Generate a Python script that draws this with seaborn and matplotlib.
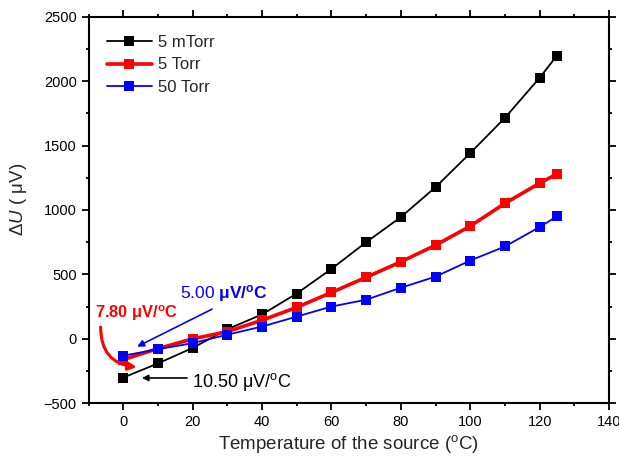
import matplotlib
matplotlib.use("Agg")
import matplotlib.pyplot as plt
import seaborn as sns
import pandas as pd
from matplotlib.ticker import MultipleLocator

temps = [0, 10, 20, 30, 40, 50, 60, 70, 80, 90, 100, 110, 120, 125]
u_5mtorr = [-300, -190, -70, 75, 190, 352, 543, 750, 945, 1177, 1442, 1715, 2026, 2198]
u_5torr = [-160, -75, 0, 57, 145, 245, 360, 478, 598, 727, 875, 1052, 1208, 1280]
u_50torr = [-130, -80, -33, 33, 96, 173, 251, 304, 397, 483, 608, 717, 868, 951]
series_names = ["5 mTorr", "5 Torr", "50 Torr"]
series_colors = ["#000000", "#ff0000", "#0000ff"]
series_widths = [1.3, 2.6, 1.3]

sns.set_style("ticks")
plt.rcParams["font.family"] = ["Liberation Sans", "DejaVu Sans"]
plt.rcParams["mathtext.fontset"] = "custom"
plt.rcParams["mathtext.rm"] = "Liberation Sans"
plt.rcParams["mathtext.it"] = "Liberation Sans:italic"
plt.rcParams["mathtext.bf"] = "Liberation Sans:bold"

df = pd.DataFrame({
    "T": temps * 3,
    "U": u_5mtorr + u_5torr + u_50torr,
    "series": [series_names[0]] * len(temps) + [series_names[1]] * len(temps) + [series_names[2]] * len(temps),
})

fig = plt.figure(figsize=(6.19, 4.61), dpi=100)
ax = fig.add_axes([0.143, 0.125, 0.841, 0.839])

for i, name in enumerate(series_names):
    sub = df[df["series"] == name]
    sns.lineplot(data=sub, x="T", y="U", ax=ax, color=series_colors[i], linewidth=series_widths[i],
                 marker="s", markersize=6.5, markeredgewidth=0, label=name, zorder=3 + i)

ax.set_xlim(-10, 140)
ax.set_ylim(-500, 2500)
ax.xaxis.set_major_locator(MultipleLocator(20))
ax.xaxis.set_minor_locator(MultipleLocator(10))
ax.yaxis.set_major_locator(MultipleLocator(500))
ax.yaxis.set_minor_locator(MultipleLocator(250))
ax.tick_params(which="both", direction="out", top=True, right=True, labeltop=False, labelright=False,
               width=1.3, labelsize=10.5, colors="black")
ax.tick_params(which="major", length=5)
ax.tick_params(which="minor", length=2.5)
for s in ax.spines.values():
    s.set_linewidth(1.5)
    s.set_color("black")

ax.set_xlabel(r"Temperature of the source ($^{\rm o}$C)", fontsize=13.5, labelpad=3)
ax.set_ylabel(r"$\mathit{\Delta U}$ ( μV)", fontsize=13.5)
ax.yaxis.set_label_coords(-0.115, 0.528)

leg = ax.legend(loc="upper left", frameon=False, fontsize=12, handlelength=2.7,
                borderaxespad=0.7, labelspacing=0.45, handletextpad=0.35)

# annotations
ax.text(16.4, 356, r"5.00 $\mathbf{μV/^{o}C}$", color="#0000ff", fontsize=12.5, va="center", ha="left")
ax.annotate("", xy=(4.0, -60), xytext=(25.6, 231),
            arrowprops=dict(arrowstyle="-|>", color="#0000ff", lw=1.2, shrinkA=0, shrinkB=0,
                            mutation_scale=10))
ax.text(-8.1, 200, r"$\mathbf{7.80\ μV/^{o}C}$", color="#ff0000", fontsize=11.8, va="center", ha="left")
ax.annotate("", xy=(3.9, -218), xytext=(-6.5, 92),
            arrowprops=dict(arrowstyle="-|>", color="#ff0000", lw=2.2, shrinkA=0, shrinkB=0,
                            connectionstyle="arc3,rad=0.45", mutation_scale=12))
ax.text(19.9, -337, r"10.50 μV/$^{\rm o}$C", color="black", fontsize=13, va="center", ha="left")
ax.annotate("", xy=(5.4, -303), xytext=(18.4, -303),
            arrowprops=dict(arrowstyle="-|>", color="black", lw=1.2, shrinkA=0, shrinkB=0,
                            mutation_scale=9))

fig.savefig("out.png", dpi=100)
